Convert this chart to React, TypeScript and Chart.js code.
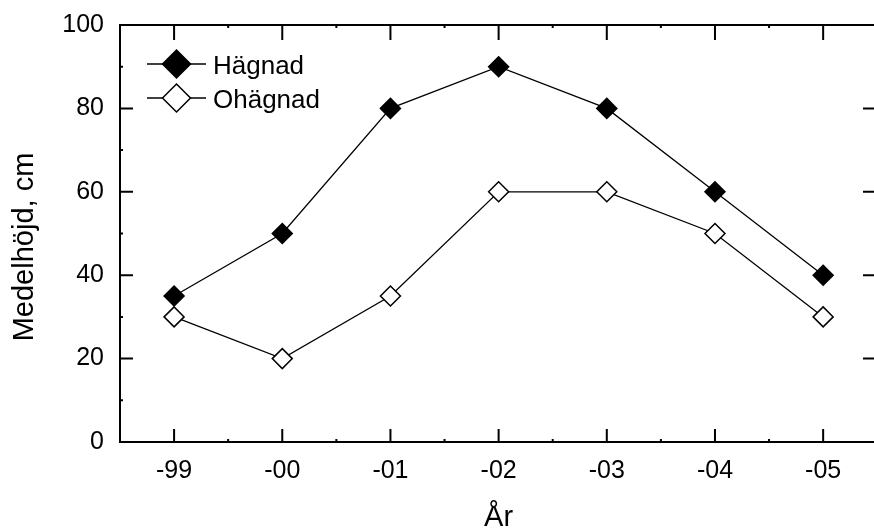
import React, { useEffect, useRef } from "react";
import { Chart, registerables } from "chart.js";

Chart.register(...registerables);

const categories = ["-99", "-00", "-01", "-02", "-03", "-04", "-05"];
const hagnad = [35, 50, 80, 90, 80, 60, 40];
const ohagnad = [30, 20, 35, 60, 60, 50, 30];
const seriesNames = ["Hägnad", "Ohägnad"];
const yTitle = "Medelhöjd, cm";
const xTitle = "År";
const yMajor = [0, 20, 40, 60, 80, 100];
const yMinor = [10, 30, 50, 70, 90];

const FONT = "'Liberation Sans', Arial, Helvetica, sans-serif";

function diamond(ctx: CanvasRenderingContext2D, x: number, y: number, r: number, fill: string) {
  ctx.beginPath();
  ctx.moveTo(x - r, y);
  ctx.lineTo(x, y - r);
  ctx.lineTo(x + r, y);
  ctx.lineTo(x, y + r);
  ctx.closePath();
  ctx.fillStyle = fill;
  ctx.fill();
  ctx.lineWidth = 1.5;
  ctx.strokeStyle = "#000";
  ctx.stroke();
}

const framePlugin = {
  id: "frame",
  afterDraw(chart: any) {
    const ctx: CanvasRenderingContext2D = chart.ctx;
    const { left, right, top, bottom } = chart.chartArea;
    const xs = chart.scales.x;
    const ys = chart.scales.y;
    ctx.save();
    ctx.strokeStyle = "#000";
    ctx.lineWidth = 2;
    ctx.lineCap = "butt";
    ctx.beginPath();
    ctx.moveTo(left, top);
    ctx.lineTo(right + 2, top);
    ctx.moveTo(left, top - 1);
    ctx.lineTo(left, bottom + 1);
    ctx.moveTo(left, bottom);
    ctx.lineTo(right + 2, bottom);
    yMajor.forEach((v) => {
      const p = ys.getPixelForValue(v);
      ctx.moveTo(left, p);
      ctx.lineTo(left + 13, p);
      ctx.moveTo(right + 2, p);
      ctx.lineTo(right - 11, p);
    });
    yMinor.forEach((v) => {
      const p = ys.getPixelForValue(v);
      ctx.moveTo(left, p);
      ctx.lineTo(left + 3, p);
    });
    categories.forEach((_, i) => {
      const p = xs.getPixelForValue(i);
      ctx.moveTo(p, bottom);
      ctx.lineTo(p, bottom - 13);
      ctx.moveTo(p, top);
      ctx.lineTo(p, top + 15);
      if (i < categories.length - 1) {
        const m = xs.getPixelForValue(i + 0.5);
        ctx.moveTo(m, bottom);
        ctx.lineTo(m, bottom - 3);
        ctx.moveTo(m, top);
        ctx.lineTo(m, top + 3);
      }
    });
    ctx.stroke();

    // axis titles
    ctx.fillStyle = "#000";
    ctx.font = `29px ${FONT}`;
    ctx.textAlign = "center";
    ctx.textBaseline = "alphabetic";
    ctx.save();
    ctx.translate(33, 247);
    ctx.rotate(-Math.PI / 2);
    ctx.fillText(yTitle, 0, 0);
    ctx.restore();
    ctx.fillText(xTitle, xs.getPixelForValue(3), 526);

    // legend
    const lx1 = 147, lx2 = 206, lm = 176.5;
    const rows = [
      { y: 64, fill: "#000", name: seriesNames[0] },
      { y: 98, fill: "#fff", name: seriesNames[1] },
    ];
    ctx.font = `26px ${FONT}`;
    ctx.textAlign = "left";
    rows.forEach((r) => {
      ctx.beginPath();
      ctx.lineWidth = 1.3;
      ctx.strokeStyle = "#000";
      ctx.moveTo(lx1, r.y);
      ctx.lineTo(lx2, r.y);
      ctx.stroke();
      diamond(ctx, lm, r.y, 14, r.fill);
      ctx.fillStyle = "#000";
      ctx.fillText(r.name, 213, r.y + 10);
    });
    ctx.restore();
  },
};

const zeroPad = (s: any) => {
  s.paddingTop = 0;
  s.paddingBottom = 0;
  s.paddingLeft = 0;
  s.paddingRight = 0;
};

export default function App() {
  const ref = useRef<HTMLCanvasElement | null>(null);
  useEffect(() => {
    if (!ref.current) return;
    const chart = new Chart(ref.current, {
      type: "line",
      data: {
        datasets: [
          {
            label: seriesNames[0],
            data: hagnad.map((v, i) => ({ x: i, y: v })),
            borderColor: "#000",
            borderWidth: 1.3,
            pointStyle: "rectRot",
            pointRadius: 10,
            pointBackgroundColor: "#000",
            pointBorderColor: "#000",
            pointBorderWidth: 1.5,
            tension: 0,
            clip: false as any,
          },
          {
            label: seriesNames[1],
            data: ohagnad.map((v, i) => ({ x: i, y: v })),
            borderColor: "#000",
            borderWidth: 1.3,
            pointStyle: "rectRot",
            pointRadius: 10,
            pointBackgroundColor: "#fff",
            pointBorderColor: "#000",
            pointBorderWidth: 1.5,
            tension: 0,
            clip: false as any,
          },
        ],
      },
      options: {
        responsive: false,
        animation: false,
        devicePixelRatio: 1,
        layout: { autoPadding: false, padding: { left: 0, right: 0, top: 25, bottom: 0 } },
        plugins: { legend: { display: false }, tooltip: { enabled: false } },
        scales: {
          x: {
            type: "linear",
            min: -0.5,
            max: 6.47,
            grid: { display: false, drawTicks: false },
            border: { display: false },
            afterBuildTicks: (s: any) => {
              s.ticks = categories.map((_, i) => ({ value: i }));
            },
            ticks: {
              color: "#000",
              font: { family: FONT, size: 25 },
              padding: 14,
              maxRotation: 0,
              autoSkip: false,
              callback: (v: any) => categories[v as number],
            },
            afterFit: (s: any) => {
              s.height = 88;
              zeroPad(s);
            },
          },
          y: {
            min: 0,
            max: 100,
            grid: { display: false, drawTicks: false },
            border: { display: false },
            ticks: {
              stepSize: 20,
              color: "#000",
              font: { family: FONT, size: 25 },
              padding: 16,
            },
            afterFit: (s: any) => {
              s.width = 120;
              zeroPad(s);
            },
          },
        },
      },
      plugins: [framePlugin],
    });
    return () => chart.destroy();
  }, []);
  return (
    <div style={{ position: "fixed", left: 0, top: 0, width: 874, height: 530, background: "#fff" }}>
      <canvas ref={ref} width={874} height={530} style={{ width: 874, height: 530, display: "block" }} />
    </div>
  );
}
